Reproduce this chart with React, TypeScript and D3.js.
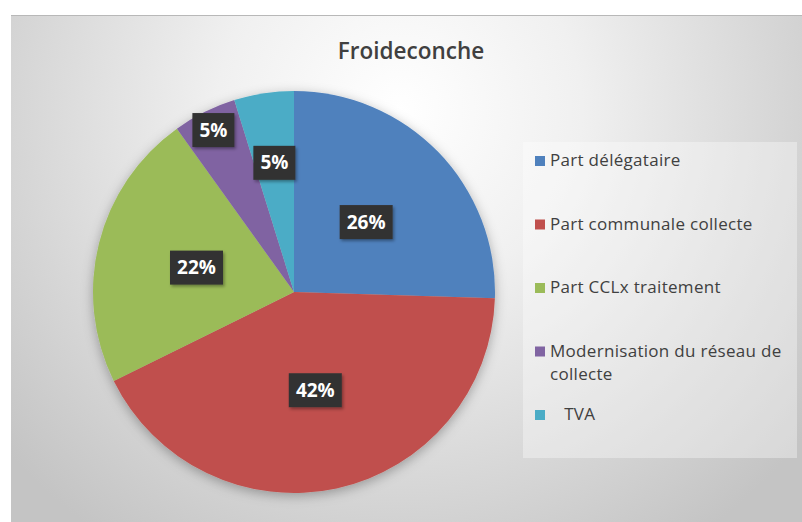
import * as d3 from "d3";

const categories = [
  "Part délégataire",
  "Part communale collecte",
  "Part CCLx traitement",
  "Modernisation du réseau de collecte",
  "TVA",
];
const values = [25.5, 42.2, 22.4, 5.1, 4.8];
const legendLines = [
  ["Part délégataire"],
  ["Part communale collecte"],
  ["Part CCLx traitement"],
  ["Modernisation du réseau de", "collecte"],
  ["   TVA"],
];
const colors = ["#4f81bd", "#c0504d", "#9bbb59", "#8064a2", "#4bacc6"];
const title = "Froideconche";

// label distance from center, as fraction of radius (small slices pushed out)
const labelRadius = [0.5, 0.5, 0.5, 0.9, 0.65];

const W = 802;
const H = 522;
const cx = 294;
const cy = 292;
const R = 201;

const App = () => {
  const total = d3.sum(values);
  const pie = d3.pie<number>().sort(null).value((d) => d)(values);
  const arc = d3.arc<d3.PieArcDatum<number>>().innerRadius(0).outerRadius(R);
  const legendY = d3.scalePoint<number>().domain(d3.range(5)).range([166, 420]);

  return (
    <svg
      width={W}
      height={H}
      style={{ position: "absolute", left: 0, top: 0 }}
      fontFamily="'Open Sans', sans-serif"
    >
      <defs>
        <radialGradient id="bg" gradientUnits="userSpaceOnUse" cx={400} cy={110} r={520}>
          <stop offset="0" stopColor="#ffffff" />
          <stop offset="0.35" stopColor="#f0f0f0" />
          <stop offset="1" stopColor="#c4c4c4" />
        </radialGradient>
        <filter id="pieShadow" x="-20%" y="-20%" width="140%" height="140%">
          <feDropShadow dx="0" dy="3" stdDeviation="6" floodColor="#000" floodOpacity="0.3" />
        </filter>
        <filter id="boxShadow" x="-30%" y="-30%" width="160%" height="160%">
          <feDropShadow dx="1.5" dy="2" stdDeviation="1.5" floodColor="#000" floodOpacity="0.35" />
        </filter>
      </defs>
      <rect x={11} y={15} width={W - 11} height={H - 15} fill="url(#bg)" />
      <line x1={11} x2={W} y1={15.5} y2={15.5} stroke="#b8b8b8" />
      <text x={411} y={59} textAnchor="middle" fontSize={22.5} fontWeight={600} fill="#404040">
        {title}
      </text>
      <g transform={`translate(${cx},${cy})`}>
        <g filter="url(#pieShadow)">
          {pie.map((p, i) => (
            <path key={i} d={arc(p) ?? ""} fill={colors[i]} />
          ))}
        </g>
        {pie.map((p, i) => {
          const a = (p.startAngle + p.endAngle) / 2;
          const r = R * labelRadius[i];
          const x = r * Math.sin(a);
          const y = -r * Math.cos(a);
          const label = `${Math.round((values[i] / total) * 100)}%`;
          const bw = label.length * 11 + 20;
          const bh = 34;
          return (
            <g key={i} transform={`translate(${x},${y})`}>
              <rect
                x={-bw / 2}
                y={-bh / 2}
                width={bw}
                height={bh}
                fill="#333333"
                filter="url(#boxShadow)"
              />
              <text
                textAnchor="middle"
                dy="0.35em"
                fontSize={19}
                fontWeight="bold"
                fill="#ffffff"
              >
                {label}
              </text>
            </g>
          );
        })}
      </g>
      <rect x={523} y={142} width={274} height={316} fill="#ffffff" fillOpacity={0.35} />
      {categories.map((c, i) => {
        const y = legendY(i) ?? 0;
        return (
          <g key={c}>
            <rect x={535} y={y - 10} width={10} height={10} fill={colors[i]} />
            <text
              x={550}
              y={y}
              fontSize={17}
              letterSpacing={0.3}
              fill="#404040"
              xmlSpace="preserve"
            >
              {legendLines[i].map((l, j) => (
                <tspan key={j} x={550} dy={j === 0 ? 0 : 23}>
                  {l}
                </tspan>
              ))}
            </text>
          </g>
        );
      })}
    </svg>
  );
};

export default App;
